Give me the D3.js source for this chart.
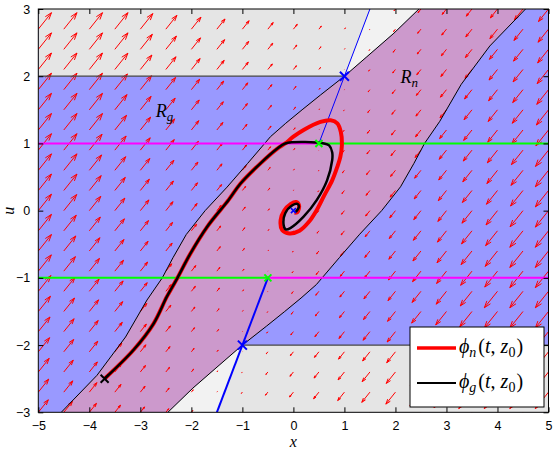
<!DOCTYPE html>
<html lang="en">
<head>
<meta charset="utf-8">
<title>Phase plane</title>
<script src="https://d3js.org/d3.v7.min.js"></script>
<style>
  body { margin: 0; background: #fff; }
  svg text { font-family: "Liberation Sans", Arial, sans-serif; }
  .math { font-family: "Liberation Serif", "DejaVu Serif", serif; font-style: italic; }
</style>
</head>
<body>
<div class="chart"></div>
<script>
// axis ticks
const xTicks = [-5, -4, -3, -2, -1, 0, 1, 2, 3, 4, 5];
const uTicks = [-3, -2, -1, 0, 1, 2, 3];

// quiver grid
const gridX = [-5, -4.5, -4, -3.5, -3, -2.5, -2, -1.5, -1, -0.5, 0, 0.5, 1, 1.5, 2, 2.5, 3, 3.5, 4, 4.5, 5];
const gridU = [-3, -2.7, -2.4, -2.1, -1.8, -1.5, -1.2, -0.9, -0.6, -0.3, 0, 0.3, 0.6, 0.9, 1.2, 1.5, 1.8, 2.1, 2.4, 2.7, 3];
// field: zero on x = u/2, fixed direction, saturating size
const fieldDir = [1, 0.95];
const fieldGain = 0.056;
const fieldCap = 4.6;

// R_n boundaries (u, x)
const leftBndU = [-3, -2.45, -1.88, -1.33, -1.0, -0.7, -0.355, 0, 0.35, 0.7, 1.1, 1.3, 1.5, 1.72, 2.0, 2.29, 2.64, 3];
const leftBndX = [-4.55, -3.85, -3.29, -2.87, -2.57, -2.36, -2.1, -1.73, -1.3, -0.9, -0.45, -0.15, 0.17, 0.53, 1.0, 1.44, 1.97, 2.46];
const rightBndU = [-3, -2.64, -2.29, -2.0, -1.72, -1.5, -1.3, -1.1, -0.7, -0.35, 0, 0.355, 0.7, 1.0, 1.33, 1.88, 2.45, 3];
const rightBndX = [-2.46, -1.97, -1.44, -1.0, -0.53, -0.17, 0.15, 0.45, 0.9, 1.3, 1.73, 2.1, 2.36, 2.57, 2.87, 3.29, 3.85, 4.55];

// blue lines (x, u)
const blueTop = [[0.5, 1], [1.5, 3]];
const blueBottom = [[-1.5, -3], [-0.5, -1]];

// trajectories (x, u)
const phiN = [[-3.7, -2.5], [-3.13, -2.07], [-2.74, -1.68], [-2.48, -1.28], [-2.28, -1.01], [-2.02, -0.64],
  [-1.69, -0.24], [-1.27, 0.16], [-1.04, 0.4], [-0.65, 0.7], [-0.32, 0.92], [-0.16, 1.0], [0.0, 1.1],
  [0.2, 1.2], [0.53, 1.32], [0.73, 1.345], [0.86, 1.3], [0.93, 1.17], [0.95, 0.97], [0.92, 0.8],
  [0.86, 0.65], [0.76, 0.45], [0.6, 0.22], [0.45, 0.0], [0.3, -0.17], [0.12, -0.3], [-0.08, -0.34],
  [-0.22, -0.29], [-0.25, -0.14], [-0.18, 0.0], [-0.05, 0.1], [0.05, 0.13], [0.11, 0.08], [0.08, -0.02], [0.02, -0.03]];
const phiG = [[-3.7, -2.5], [-3.13, -2.07], [-2.74, -1.68], [-2.48, -1.28], [-2.28, -1.01], [-2.02, -0.64],
  [-1.69, -0.24], [-1.27, 0.16], [-1.04, 0.4], [-0.65, 0.7], [-0.32, 0.92], [-0.16, 1.0], [0.6, 1.0],
  [0.7, 0.97], [0.76, 0.87], [0.76, 0.75], [0.66, 0.45], [0.46, 0.16], [0.2, -0.09], [-0.06, -0.26],
  [-0.15, -0.28], [-0.19, -0.22], [-0.16, -0.04], [-0.02, 0.08], [0.08, 0.1], [0.11, 0.06], [0.045, -0.02]];

const W = 553, H = 450;
const svg = d3.select('.chart').append('svg').attr('width', W).attr('height', H);

const x = d3.scaleLinear().domain([-5, 5]).range([38.3, 548.5]);
const y = d3.scaleLinear().domain([-3, 3]).range([412.3, 9]);

svg.append('clipPath').attr('id', 'plotclip')
  .append('rect').attr('x', x(-5)).attr('y', y(3)).attr('width', x(5) - x(-5)).attr('height', y(-3) - y(3));

const plot = svg.append('g').attr('clip-path', 'url(#plotclip)');
const poly = d3.line().x(d => x(d[0])).y(d => y(d[1]));

const leftBnd = leftBndU.map((u, i) => [leftBndX[i], u]);
const rightBnd = rightBndU.map((u, i) => [rightBndX[i], u]);

// background
plot.append('rect').attr('x', x(-5)).attr('y', y(3))
  .attr('width', x(5) - x(-5)).attr('height', y(-3) - y(3)).attr('fill', '#9999ff');

// gray bands
plot.append('path').attr('d', poly([[-5, 2], [1, 2], [1.5, 3], [-5, 3]]) + 'Z').attr('fill', '#e5e5e5');
plot.append('path').attr('d', poly([[-1, -2], [5, -2], [5, -3], [-1.5, -3]]) + 'Z').attr('fill', '#e5e5e5');

// light triangles between blue line and R_n
const topLight = [[1, 2], [1.5, 3]].concat(leftBnd.filter(p => p[1] >= 2).reverse());
plot.append('path').attr('d', poly(topLight) + 'Z').attr('fill', '#f2f2f2');
const botLight = [[-1, -2], [-1.5, -3]].concat(rightBnd.filter(p => p[1] <= -2));
plot.append('path').attr('d', poly(botLight) + 'Z').attr('fill', '#f2f2f2');

// R_n
plot.append('path').attr('d', poly(leftBnd.concat(rightBnd.slice().reverse())) + 'Z').attr('fill', '#cc99cc');

// quiver
const arrows = [];
gridX.forEach(gx => gridU.forEach(gu => {
  const s = Math.max(-fieldCap, Math.min(fieldCap, gu / 2 - gx));
  const x0 = x(gx), y0 = y(gu);
  const x1 = x(gx + fieldGain * s * fieldDir[0]), y1 = y(gu + fieldGain * s * fieldDir[1]);
  const vx = x1 - x0, vy = y1 - y0, a = 0.33, b = 0.33;
  arrows.push(`M${x0},${y0}L${x1},${y1}` +
    `M${x1 - a * (vx + b * vy)},${y1 - a * (vy - b * vx)}L${x1},${y1}` +
    `L${x1 - a * (vx - b * vy)},${y1 - a * (vy + b * vx)}`);
}));
plot.append('path').attr('d', arrows.join('')).attr('fill', 'none')
  .attr('stroke', '#ff0000').attr('stroke-width', 1);

// boundaries
plot.append('path').attr('d', poly(leftBnd)).attr('fill', 'none').attr('stroke', '#000').attr('stroke-width', 1);
plot.append('path').attr('d', poly(rightBnd)).attr('fill', 'none').attr('stroke', '#000').attr('stroke-width', 1);
plot.append('path').attr('d', poly([[-5, 2], [1, 2]])).attr('stroke', '#444').attr('stroke-width', 1.3);
plot.append('path').attr('d', poly([[-1, -2], [5, -2]])).attr('stroke', '#444').attr('stroke-width', 1.3);

// u = +-1 lines
const hl = (a, b, c) => plot.append('path').attr('d', poly([a, b])).attr('stroke', c).attr('stroke-width', 2);
hl([-5, 1], [0.5, 1], '#ff00ff');
hl([0.5, 1], [5, 1], '#00ff00');
hl([-5, -1], [-0.5, -1], '#00ff00');
hl([-0.5, -1], [5, -1], '#ff00ff');

// blue lines
plot.append('path').attr('d', poly(blueTop)).attr('stroke', '#0000ff').attr('stroke-width', 1);
plot.append('path').attr('d', poly(blueBottom)).attr('stroke', '#0000ff').attr('stroke-width', 2);

// trajectories
const curve = d3.line().x(d => x(d[0])).y(d => y(d[1])).curve(d3.curveCatmullRom.alpha(0.5));
plot.append('path').attr('d', curve(phiN)).attr('fill', 'none').attr('stroke', '#ff0000')
  .attr('stroke-width', 4).attr('stroke-linejoin', 'round');
plot.append('path').attr('d', curve(phiG)).attr('fill', 'none').attr('stroke', '#000')
  .attr('stroke-width', 2.5).attr('stroke-linejoin', 'round');

// markers
function cross(px, pu, r, c, w) {
  const cx = x(px), cy = y(pu);
  plot.append('path').attr('d', `M${cx - r},${cy - r}L${cx + r},${cy + r}M${cx - r},${cy + r}L${cx + r},${cy - r}`)
    .attr('stroke', c).attr('stroke-width', w);
}
cross(1, 2, 4.5, '#0000ff', 2);
cross(-1, -2, 4.5, '#0000ff', 2);
cross(0.5, 1, 3.5, '#00ff00', 2);
cross(-0.5, -1, 3.5, '#00ff00', 2);
cross(-3.7, -2.5, 4, '#000', 2);
cross(0, 0, 2.5, '#0000ff', 1.5);

// region labels
function sub(base, subs, xx, yy, fs) {
  const tx = svg.append('text').attr('class', 'math').attr('x', xx).attr('y', yy).attr('font-size', fs);
  tx.append('tspan').text(base);
  tx.append('tspan').attr('dy', fs * 0.25).attr('font-size', fs * 0.72).text(subs);
  return tx;
}
sub('R', 'g', x(-2.7), y(1.4), 18);
sub('R', 'n', x(2.1), y(1.9), 18);

// axes
const fmt = d3.format('d');
const xAxis = d3.axisBottom(x).tickValues(xTicks).tickFormat(fmt).tickSizeInner(-5).tickSizeOuter(0).tickPadding(9);
const yAxis = d3.axisLeft(y).tickValues(uTicks).tickFormat(fmt).tickSizeInner(-5).tickSizeOuter(0).tickPadding(8);
const gx = svg.append('g').attr('transform', `translate(0,${y(-3)})`).call(xAxis);
const gy = svg.append('g').attr('transform', `translate(${x(-5)},0)`).call(yAxis);
[gx, gy].forEach(g => {
  g.selectAll('text').attr('font-size', 12.5).attr('fill', '#000').style('font-family', '"Liberation Sans", Arial, sans-serif');
  g.select('.domain').remove();
});
svg.append('g').attr('transform', `translate(0,${y(3)})`)
  .call(d3.axisTop(x).tickValues(xTicks).tickSizeInner(-5).tickSizeOuter(0).tickFormat(''))
  .select('.domain').remove();
svg.append('g').attr('transform', `translate(${x(5)},0)`)
  .call(d3.axisRight(y).tickValues(uTicks).tickSizeInner(-5).tickSizeOuter(0).tickFormat(''))
  .select('.domain').remove();
svg.append('rect').attr('x', x(-5)).attr('y', y(3)).attr('width', x(5) - x(-5)).attr('height', y(-3) - y(3))
  .attr('fill', 'none').attr('stroke', '#000').attr('stroke-width', 1);

svg.append('text').attr('class', 'math').attr('x', x(0)).attr('y', 447).attr('text-anchor', 'middle')
  .attr('font-size', 16).text('x');
svg.append('text').attr('class', 'math').attr('transform', `translate(14,${y(0)}) rotate(-90)`)
  .attr('text-anchor', 'middle').attr('font-size', 16).text('u');

// legend
const lg = svg.append('g');
lg.append('rect').attr('x', 410).attr('y', 327).attr('width', 134).attr('height', 80)
  .attr('fill', '#fff').attr('stroke', '#000').attr('stroke-width', 1);
const legendItems = [{ c: '#ff0000', w: 3.5, s: 'n', yy: 348 }, { c: '#000', w: 2, s: 'g', yy: 383 }];
legendItems.forEach(it => {
  lg.append('line').attr('x1', 417).attr('x2', 456).attr('y1', it.yy).attr('y2', it.yy)
    .attr('stroke', it.c).attr('stroke-width', it.w);
  const t = lg.append('text').attr('class', 'math').attr('x', 459).attr('y', it.yy + 5).attr('font-size', 20);
  t.append('tspan').text('ϕ');
  t.append('tspan').attr('dy', 4).attr('font-size', 14).text(it.s);
  t.append('tspan').attr('dy', -4).attr('dx', 2).style('font-style', 'normal').text('(');
  t.append('tspan').text('t');
  t.append('tspan').style('font-style', 'normal').text(',');
  t.append('tspan').attr('dx', 5).text('z');
  t.append('tspan').attr('dy', 4).attr('font-size', 14).style('font-style', 'normal').text('0');
  t.append('tspan').attr('dy', -4).attr('dx', 1).style('font-style', 'normal').text(')');
});
</script>
</body>
</html>
